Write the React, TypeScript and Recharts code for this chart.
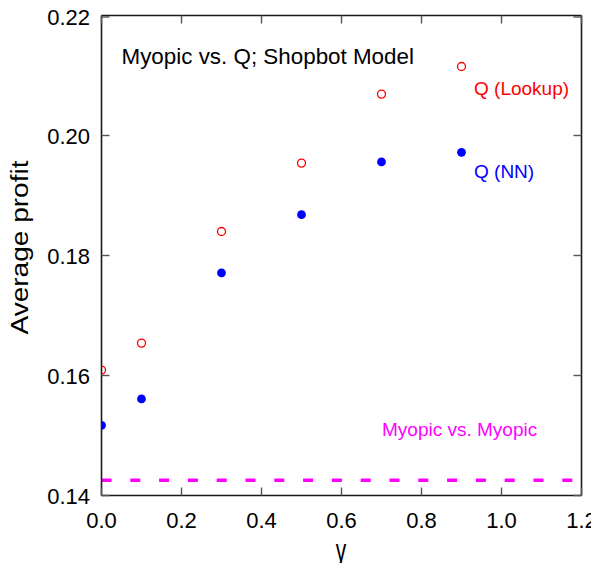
import React from "react";
import { ScatterChart, Scatter, XAxis, YAxis, ReferenceLine } from "recharts";

// Discount factor values (gamma) at which the agents were evaluated
const gammas = [0.0, 0.1, 0.3, 0.5, 0.7, 0.9];
// Average profit of the Q-learner using a lookup table
const qLookupProfit = [0.1609, 0.1654, 0.1840, 0.1954, 0.2069, 0.2115];
// Average profit of the Q-learner using a neural network
const qNNProfit = [0.1517, 0.1561, 0.1771, 0.1868, 0.1956, 0.1972];
// Baseline: myopic seller against myopic seller
const myopicBaseline = 0.14253;

const xTicks = [0, 0.2, 0.4, 0.6, 0.8, 1.0, 1.2];
const yTicks = [0.14, 0.16, 0.18, 0.2, 0.22];

const lookupData = gammas.map((g, i) => ({ gamma: g, profit: qLookupProfit[i] }));
const nnData = gammas.map((g, i) => ({ gamma: g, profit: qNNProfit[i] }));

const FONT = "'Liberation Sans', Arial, Helvetica, sans-serif";
const AXIS_COLOR = "#1a1a1a";
const TICK_COLOR = "#555";
const TICK_LEN = 8;

const BottomTick = (props: any) => {
  const { x, y, payload } = props;
  return (
    <g>
      <line x1={x} y1={y} x2={x} y2={y - TICK_LEN} stroke={TICK_COLOR} strokeWidth={1.4} />
      <text x={x} y={y + 32.5} textAnchor="middle" fontFamily={FONT} fontSize={22} fill="#000">
        {Number(payload.value).toFixed(1)}
      </text>
    </g>
  );
};

const TopTick = (props: any) => {
  const { x, y } = props;
  return <line x1={x} y1={y} x2={x} y2={y + TICK_LEN} stroke={TICK_COLOR} strokeWidth={1.4} />;
};

const LeftTick = (props: any) => {
  const { x, y, payload } = props;
  return (
    <g>
      <line x1={x} y1={y} x2={x + TICK_LEN} y2={y} stroke={TICK_COLOR} strokeWidth={1.4} />
      <text x={x - 11.5} y={y + 8} textAnchor="end" fontFamily={FONT} fontSize={22} fill="#000">
        {Number(payload.value).toFixed(2)}
      </text>
    </g>
  );
};

const RightTick = (props: any) => {
  const { x, y } = props;
  return <line x1={x} y1={y} x2={x - TICK_LEN} y2={y} stroke={TICK_COLOR} strokeWidth={1.4} />;
};

const OpenCircle = (props: any) => {
  const { cx, cy } = props;
  return <circle cx={cx} cy={cy} r={4.0} fill="none" stroke="#ff0000" strokeWidth={1.3} />;
};

const FilledCircle = (props: any) => {
  const { cx, cy } = props;
  return <circle cx={cx} cy={cy} r={4.4} fill="#0000ff" />;
};

// Empty marker: binds the mirror (top/right) frame axes to data
const NoMarker = () => <g />;

export default function App() {
  return (
    <div style={{ width: 591, height: 555, overflow: "visible" }}>
      <ScatterChart
        width={591}
        height={563}
        margin={{ top: 6.5, right: 16.5, left: 0, bottom: 0 }}
        style={{ fontFamily: FONT, overflow: "visible" }}
      >
        <XAxis
          xAxisId="b"
          type="number"
          dataKey="gamma"
          domain={[0, 1.2]}
          ticks={xTicks}
          allowDataOverflow
          height={75.5}
          tickSize={0}
          tickMargin={0}
          tickLine={false}
          axisLine={{ stroke: AXIS_COLOR, strokeWidth: 1.6 }}
          tick={<BottomTick />}
        />
        <XAxis
          xAxisId="t"
          orientation="top"
          type="number"
          dataKey="gamma"
          domain={[0, 1.2]}
          ticks={xTicks}
          allowDataOverflow
          height={1}
          tickSize={0}
          tickMargin={0}
          tickLine={false}
          axisLine={{ stroke: AXIS_COLOR, strokeWidth: 1.6 }}
          tick={<TopTick />}
        />
        <YAxis
          yAxisId="l"
          type="number"
          dataKey="profit"
          domain={[0.14, 0.22]}
          ticks={yTicks}
          allowDataOverflow
          width={93.5}
          tickSize={0}
          tickMargin={0}
          tickLine={false}
          axisLine={{ stroke: AXIS_COLOR, strokeWidth: 1.6 }}
          tick={<LeftTick />}
        />
        <YAxis
          yAxisId="r"
          orientation="right"
          type="number"
          dataKey="profit"
          domain={[0.14, 0.22]}
          ticks={yTicks}
          allowDataOverflow
          width={1}
          tickSize={0}
          tickMargin={0}
          tickLine={false}
          axisLine={{ stroke: AXIS_COLOR, strokeWidth: 1.6 }}
          tick={<RightTick />}
        />
        <ReferenceLine
          xAxisId="b"
          yAxisId="l"
          y={myopicBaseline}
          stroke="#ff00ff"
          strokeWidth={3.5}
          strokeDasharray="10 18.8"
          ifOverflow="visible"
        />
        <Scatter
          xAxisId="t"
          yAxisId="r"
          data={lookupData}
          shape={<NoMarker />}
          isAnimationActive={false}
        />
        <Scatter
          xAxisId="b"
          yAxisId="l"
          data={lookupData}
          shape={<OpenCircle />}
          isAnimationActive={false}
        />
        <Scatter
          xAxisId="b"
          yAxisId="l"
          data={nnData}
          shape={<FilledCircle />}
          isAnimationActive={false}
        />
        <text x={113.5} y={56} fontFamily={FONT} fontSize={22.4} fill="#000">
          Myopic vs. Q; Shopbot Model
        </text>
        <text x={466} y={86.5} fontFamily={FONT} fontSize={19} fill="#ff0000">
          Q (Lookup)
        </text>
        <text x={466} y={170} fontFamily={FONT} fontSize={19} fill="#0000ff">
          Q (NN)
        </text>
        <text x={374} y={428} fontFamily={FONT} fontSize={19} fill="#ff00ff">
          Myopic vs. Myopic
        </text>
        <text
          transform="translate(20.3, 239.5) rotate(-90)"
          textAnchor="middle"
          fontFamily={FONT}
          fontSize={23.5}
          textLength={174}
          lengthAdjust="spacingAndGlyphs"
          fill="#000"
        >
          Average profit
        </text>
        <text
          transform="translate(333, 553) scale(0.95, 1.4)"
          textAnchor="middle"
          fontFamily={FONT}
          fontSize={22}
          fill="#000"
        >
          γ
        </text>
      </ScatterChart>
    </div>
  );
}
